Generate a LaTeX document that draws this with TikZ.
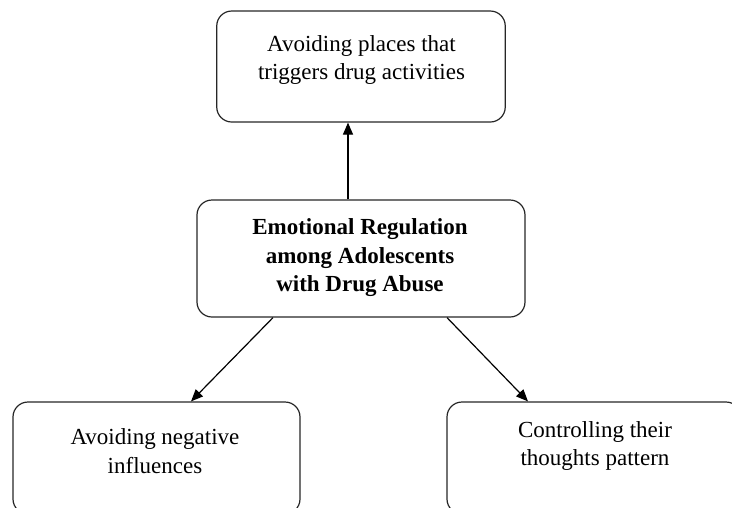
\documentclass[tikz,border=0pt]{standalone}
\usepackage{fontspec}
\setmainfont{Liberation Serif}
\usetikzlibrary{arrows.meta}
\begin{document}
\begin{tikzpicture}[x=1pt,y=-1pt,
  box/.style={draw=black!85, line width=1.2pt, rounded corners=15pt, rectangle, inner sep=0pt},
  txt/.style={align=center, inner sep=0pt, font=\fontsize{23}{28.5}\selectfont},
  arr/.style={draw=black, line width=1.2pt, -{Triangle[length=12pt,width=10pt]}}]
\useasboundingbox (0,0) rectangle (732,507);
\node[box, minimum width=288.5pt, minimum height=111pt] (top) at (361,66.5) {};
\node[box, minimum width=328pt, minimum height=117pt] (cen) at (361,258.5) {};
\node[box, minimum width=287pt, minimum height=112pt] (bl) at (156.5,458) {};
\node[box, minimum width=294pt, minimum height=112pt] (br) at (594,458) {};
\node[txt] (toptxt) at (361.5,60) {Avoiding places that\\triggers drug activities};
\node[txt, font=\fontsize{23}{28.5}\selectfont\bfseries] (centxt) at (360,258) {Emotional Regulation\\among Adolescents\\with Drug Abuse};
\node[txt] (bltxt) at (155,451) {Avoiding negative\\influences};
\node[txt] (brtxt) at (595,446) {Controlling their\\thoughts pattern};
\draw[arr] ([xshift=-13pt]cen.north) -- ([xshift=-13pt]top.south);
\draw[arr] ([xshift=-88pt]cen.south) -- ([xshift=34.5pt]bl.north);
\draw[arr] ([xshift=86pt]cen.south) -- ([xshift=-66pt]br.north);
\end{tikzpicture}
\end{document}
